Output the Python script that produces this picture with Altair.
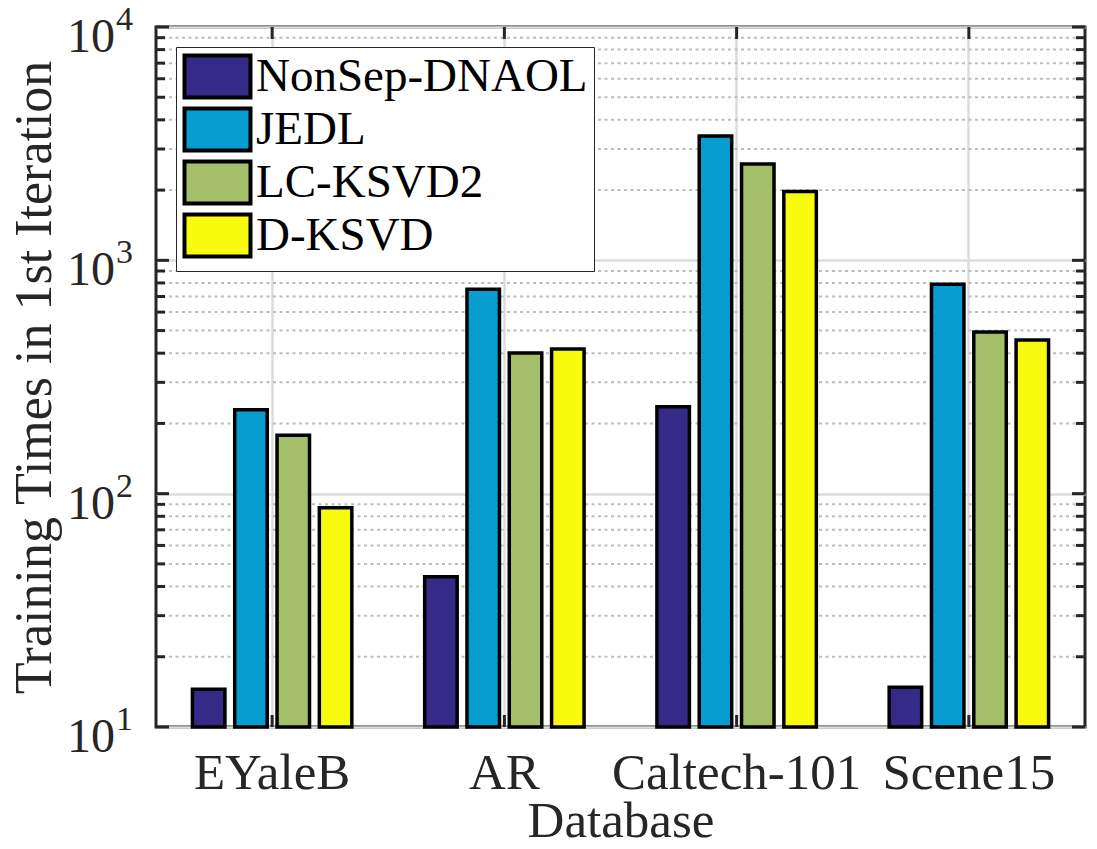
import altair as alt
import pandas as pd

# ---- data ----
databases = ["EYaleB", "AR", "Caltech-101", "Scene15"]
methods = ["NonSep-DNAOL", "JEDL", "LC-KSVD2", "D-KSVD"]
nonsep_dnaol = [14.5, 44.0, 236, 14.8]
jedl = [229, 752, 3410, 790]
lc_ksvd2 = [178, 401, 2590, 493]
d_ksvd = [87, 417, 1970, 456]
colors = ["#352A87", "#089DD0", "#A5BE6A", "#F9FB0E"]

major_ticks = [10, 100, 1000, 10000]
tick_base = ["10", "10", "10", "10"]
tick_exp = ["1", "2", "3", "4"]
minor_ticks = [m * 10 ** k for k in (1, 2, 3) for m in range(2, 10)]

W, H = 929, 700
FONT = "Liberation Serif"
DARK = "#262626"

series = [nonsep_dnaol, jedl, lc_ksvd2, d_ksvd]
rows = []
for m, vals in zip(methods, series):
    for d, v in zip(databases, vals):
        rows.append({"Database": d, "Method": m, "Time": v})
df = pd.DataFrame(rows)

major_df = pd.DataFrame({"Time": major_ticks, "base": tick_base, "exp": tick_exp})
minor_df = pd.DataFrame({"Time": minor_ticks})
cat_df = pd.DataFrame({"Database": databases})

ysc = alt.Scale(type="log", domain=[10, 10000])
xsc = alt.Scale(domain=databases, paddingInner=0, paddingOuter=0)

x_axis = alt.Axis(
    title="Database", grid=True, gridColor="#dcdcdc", gridWidth=2.5,
    ticks=False, tickSize=0, domain=False, labelAngle=0,
    labelFont=FONT, labelFontSize=51, labelColor=DARK, labelLimit=500,
    labelBaseline="alphabetic", labelPadding=61,
    titleFont=FONT, titleFontSize=51, titleFontWeight="normal",
    titleColor=DARK, titleBaseline="alphabetic", titleY=109,
)
y_axis = alt.Axis(
    values=major_ticks, labels=False, ticks=False, tickSize=0, domain=False,
    grid=True, gridColor="#dcdcdc", gridWidth=2.5,
    title="Training Times in 1st Iteration",
    titleFont=FONT, titleFontSize=52, titleFontWeight="normal",
    titleColor=DARK, titleAngle=270, titleAlign="center",
    titleBaseline="alphabetic", titleX=-106, titleY=H / 2, titleLimit=800,
)

def Y():
    return alt.Y("Time:Q", scale=ysc, axis=y_axis, stack=None)

def X():
    return alt.X("Database:N", scale=xsc, sort=databases, axis=x_axis)

minor_grid = alt.Chart(minor_df).mark_rule(
    color="#bdbdbd", strokeWidth=2, strokeDash=[3, 3.5]
).encode(
    y=Y(), x=alt.value(0), x2=alt.value(W),
)

bars = alt.Chart(df).mark_bar(stroke="black", strokeWidth=3.5).encode(
    x=X(),
    xOffset=alt.XOffset(
        "Method:N", sort=methods,
        scale=alt.Scale(domain=methods, paddingInner=0.232, paddingOuter=0.861),
    ),
    y=Y(),
    y2=alt.datum(10),
    color=alt.Color(
        "Method:N", sort=methods,
        scale=alt.Scale(domain=methods, range=colors),
        legend=alt.Legend(
            orient="none", legendX=20, legendY=20, title=None,
            symbolType="M-1.571,-1H1.571V1H-1.571Z", symbolSize=1764,
            symbolOffset=12,
            symbolStrokeColor="black", symbolStrokeWidth=4,
            symbolOpacity=1,
            labelFont=FONT, labelFontSize=47, labelColor="black",
            labelOffset=15, labelLimit=500, rowPadding=-8, padding=6,
            strokeColor=DARK, fillColor="white",
        ),
    ),
)

def tick_rules(data, length, side):
    base = alt.Chart(data).mark_rule(color=DARK, strokeWidth=3)
    if side == "left":
        return base.encode(y=Y(), x=alt.value(0), x2=alt.value(length))
    return base.encode(y=Y(), x=alt.value(W - length), x2=alt.value(W))

ticks = [
    tick_rules(major_df, 13, "left"), tick_rules(major_df, 13, "right"),
    tick_rules(minor_df, 9, "left"), tick_rules(minor_df, 9, "right"),
]

xticks_bottom = alt.Chart(cat_df).mark_rule(color=DARK, strokeWidth=3).encode(
    x=X(), y=alt.value(H - 12), y2=alt.value(H),
)
xticks_top = alt.Chart(cat_df).mark_rule(color=DARK, strokeWidth=3).encode(
    x=X(), y=alt.value(0), y2=alt.value(12),
)

ylab_base = alt.Chart(major_df).mark_text(
    align="right", baseline="alphabetic", font=FONT, fontSize=48, color=DARK, dy=25
).encode(
    y=Y(), x=alt.value(-41), text="base:N"
)
ylab_exp = alt.Chart(major_df).mark_text(
    align="left", baseline="alphabetic", font=FONT, fontSize=34, color=DARK, dy=3
).encode(
    y=Y(), x=alt.value(-40), text="exp:N"
)

chart = alt.layer(
    minor_grid, bars, *ticks, xticks_bottom, xticks_top, ylab_base, ylab_exp
).properties(
    width=W, height=H,
    autosize=alt.AutoSizeParams(type="none"),
    padding={"left": 156, "top": 27, "right": 12, "bottom": 122},
    background="white",
).configure_view(
    stroke=DARK, strokeWidth=3
)

chart.save("out.html", embed_options={"renderer": "svg", "actions": False})
